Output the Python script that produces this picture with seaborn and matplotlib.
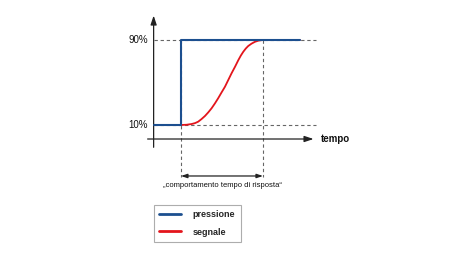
import matplotlib
matplotlib.use("Agg")
import matplotlib.pyplot as plt
import seaborn as sns
import numpy as np
import pandas as pd
from matplotlib.lines import Line2D

# ---- data (time in arbitrary units, signal in %) ----
levels = [10, 90]
level_labels = ["10%", "90%"]
pressure_t = [0.0, 1.0, 1.0, 5.35]
pressure_p = [10, 10, 90, 90]
signal_t = [1.0, 1.2, 1.39, 1.52, 1.63, 1.75, 1.88, 2.0, 2.12, 2.24, 2.36, 2.48, 2.61, 2.73,
            2.85, 2.98, 3.10, 3.19, 3.28, 3.37, 3.46, 3.58, 3.71, 3.84, 3.97, 4.0, 5.35]
signal_p = [10, 10.2, 10.9, 11.8, 13.1, 15.5, 18.5, 21.9, 25.7, 30.2, 35.1, 40.4, 46.0, 52.3,
            58.6, 64.9, 71.1, 75.3, 78.9, 81.9, 84.3, 86.5, 88.3, 89.4, 89.9, 90, 90]
t_step, t_end = 1.0, 4.0
series_names = ["pressione", "segnale"]
colors = {"pressione": "#1c4f8f", "segnale": "#e3151c"}
x_label = "tempo"
caption = "\u201ecomportamento tempo di risposta\u201c"

sns.set_theme(style="white")
plt.rcParams["font.family"] = ["Liberation Sans", "DejaVu Sans"]

fig = plt.figure(figsize=(4.74, 2.66), dpi=100)
ax = fig.add_axes([0, 0, 1, 1])
# pixel mapping: t=0 at x=153.7, 27.33 px/unit ; p=10 at y=125, 1.0625 px/%
ax.set_xlim(-5.62, 11.72)
ax.set_ylim(-122.7, 127.6)

gray = "#666666"
# dashed guide lines
for lv in levels:
    ax.plot([0, 5.95], [lv, lv], ls=(0, (3, 2.5)), color=gray, lw=0.8, zorder=1)
for tv in (t_step, t_end):
    ax.plot([tv, tv], [90, -39], ls=(0, (3, 2.5)), color=gray, lw=0.8, zorder=1)

df_sig = pd.DataFrame({"t": signal_t, "p": signal_p})
df_pre = pd.DataFrame({"t": pressure_t, "p": pressure_p})
sns.lineplot(data=df_sig, x="t", y="p", sort=False, estimator=None, color=colors["segnale"],
             lw=1.3, ax=ax, zorder=3)
sns.lineplot(data=df_pre, x="t", y="p", sort=False, estimator=None, color=colors["pressione"],
             lw=1.5, ax=ax, zorder=4)
ax.axis("off")

# axes with arrows
ax.annotate("", xy=(0, 113), xytext=(0, -11),
            arrowprops=dict(arrowstyle="-|>,head_length=0.45,head_width=0.15", color="#222222", lw=0.9,
                            shrinkA=0, shrinkB=0))
ax.annotate("", xy=(5.85, -3.2), xytext=(-0.22, -3.2),
            arrowprops=dict(arrowstyle="-|>,head_length=0.45,head_width=0.15", color="#222222", lw=0.9,
                            shrinkA=0, shrinkB=0))
ax.text(6.12, -3.2, x_label, fontsize=7, fontweight="bold", va="center", ha="left", color="#111111")

for lv, lab in zip(levels, level_labels):
    ax.text(-0.2, lv, lab, fontsize=7, va="center", ha="right", color="#111111")

# response-time arrow and caption
ax.annotate("", xy=(t_step, -38), xytext=(t_end, -38),
            arrowprops=dict(arrowstyle="<|-|>,head_length=0.3,head_width=0.1", color="#222222", lw=0.9,
                            shrinkA=0, shrinkB=0))
ax.text((t_step + t_end) / 2, -47, caption, fontsize=5.5, ha="center", va="center", color="#111111")

handles = [Line2D([0], [0], color=colors[n], lw=2) for n in series_names]
leg = ax.legend(handles, series_names, loc="upper left", bbox_to_anchor=(154 / 474, 1 - 205 / 266),
                bbox_transform=fig.transFigure, frameon=True, fancybox=False,
                prop={"size": 6.5, "weight": "bold"}, handlelength=2.4, handletextpad=1.3,
                labelspacing=0.9, borderpad=0.6, borderaxespad=0)
leg.get_frame().set_edgecolor("#999999")
leg.get_frame().set_linewidth(0.8)

fig.savefig("out.png", dpi=100)
